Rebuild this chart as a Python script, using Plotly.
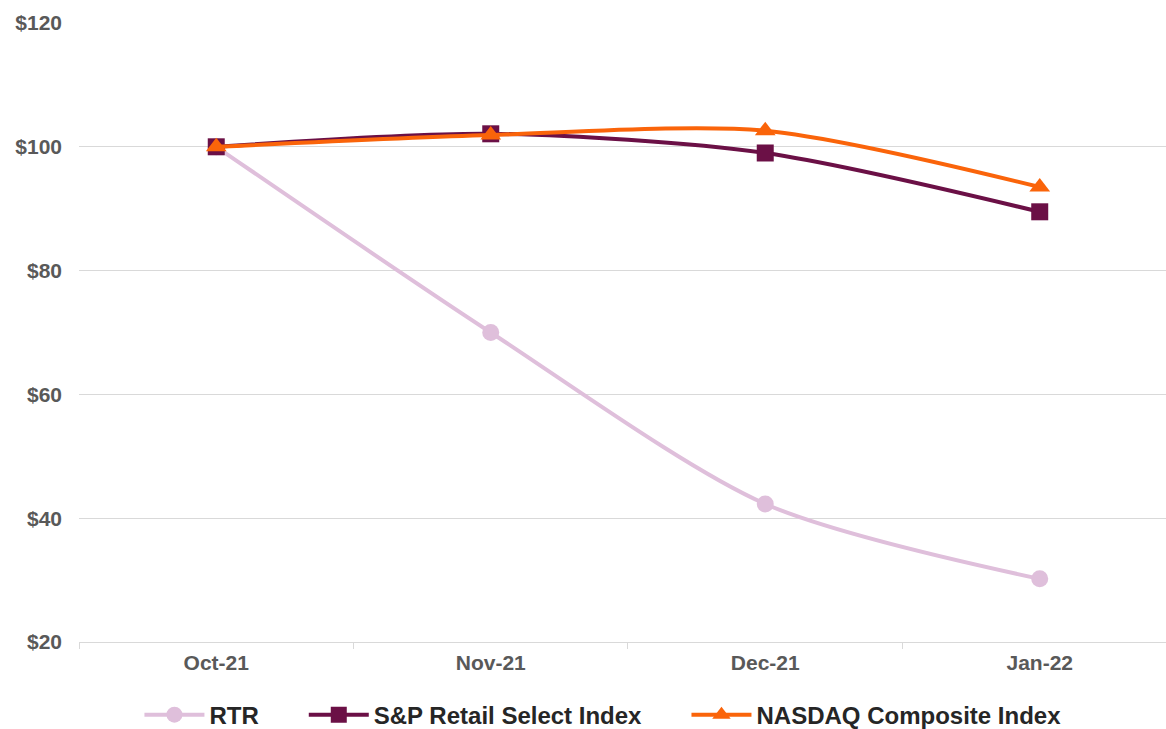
import plotly.graph_objects as go

months = ["Oct-21", "Nov-21", "Dec-21", "Jan-22"]
rtr = [100.0, 70.0, 42.3, 30.2]
sp_retail = [100.0, 102.1, 99.0, 89.5]
nasdaq = [100.0, 101.9, 102.6, 93.5]
y_ticks = [20, 40, 60, 80, 100, 120]
y_tick_labels = ["$20", "$40", "$60", "$80", "$100", "$120"]

GAP = "\u00a0" * 6

fig = go.Figure()
fig.add_trace(go.Scatter(
    x=months, y=rtr, name="RTR" + GAP, mode="lines+markers",
    line=dict(color="#DFBFDB", width=4, shape="spline", smoothing=0.8),
    marker=dict(symbol="circle", size=17, color="#DFBFDB"),
))
fig.add_trace(go.Scatter(
    x=months, y=sp_retail, name="S&P Retail Select Index" + GAP, mode="lines+markers",
    line=dict(color="#6B1046", width=4, shape="spline", smoothing=0.8),
    marker=dict(symbol="square", size=17, color="#6B1046"),
))
fig.add_trace(go.Scatter(
    x=months, y=nasdaq, name="NASDAQ Composite Index", mode="lines+markers",
    line=dict(color="#FA640A", width=4, shape="spline", smoothing=0.8),
    marker=dict(symbol="triangle-up", size=18, color="#FA640A"),
))

fig.update_layout(
    width=1166, height=729,
    margin=dict(l=79, r=0, t=23, b=87, autoexpand=False),
    paper_bgcolor="white", plot_bgcolor="white",
    font=dict(family="Liberation Sans, Arial, sans-serif", color="#595959"),
    showlegend=True,
    legend=dict(
        orientation="h", xref="paper", yref="paper",
        x=0.482, xanchor="center", y=-0.118, yanchor="middle",
        font=dict(size=24, color="#262626", family="Liberation Sans, Arial, sans-serif", weight="bold"),
        itemwidth=60, tracegroupgap=0,
    ),
    xaxis=dict(
        type="category", categoryorder="array", categoryarray=months,
        range=[-0.5, 3.46], showgrid=False, showline=True, linecolor="#D9D9D9", linewidth=1,
        ticks="outside", tickson="boundaries", ticklen=6, tickcolor="#D9D9D9",
        tickfont=dict(size=21, color="#595959", weight="bold"), ticklabelstandoff=2,
        zeroline=False, automargin=False,
    ),
    yaxis=dict(
        range=[20, 120], tickvals=y_ticks, ticktext=y_tick_labels,
        showgrid=True, gridcolor="#D9D9D9", gridwidth=1, zeroline=False, showline=False,
        ticks="", tickfont=dict(size=21, color="#595959", weight="bold"), ticklabelstandoff=16,
        automargin=False,
    ),
)

fig.write_html(
    "out.html",
    config={"displayModeBar": False},
    post_script="document.body.style.margin='0';document.body.style.padding='0';",
)
